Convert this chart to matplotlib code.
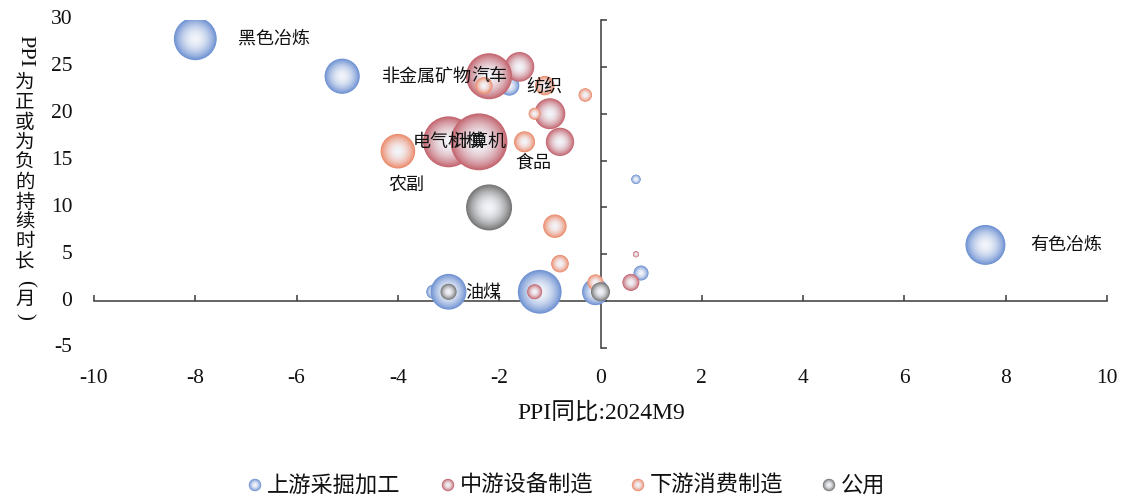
import numpy as np
import matplotlib
matplotlib.use("Agg")
import matplotlib.pyplot as plt
from matplotlib import transforms

# ---- data: PPI YoY (x), duration of positive/negative PPI in months (y), bubble weight ----
up_x = [-8.0, -5.1, -1.8, 0.7, 0.8, -0.1, -1.2, -3.3, -3.0, 7.6]
up_y = [28, 24, 23, 13, 3, 1, 1, 1, 1, 6]
up_w = [46, 31, 10, 2.2, 5.6, 18, 48, 5, 32, 40]

mid_x = [-1.6, -2.2, -1.0, -3.0, -2.4, -0.8, 0.7, 0.6, -1.3]
mid_y = [25, 24, 20, 17, 17, 17, 5, 2, 1]
mid_w = [22, 53, 24, 65, 81, 20, 0.9, 7.2, 5.6]

down_x = [-2.3, -1.1, -0.3, -1.3, -1.5, -4.0, -0.9, -0.8, -0.1]
down_y = [23, 23, 22, 20, 17, 16, 8, 4, 2]
down_w = [7.2, 9.4, 4.5, 3.6, 11, 30, 13.7, 7.7, 6.4]

pub_x = [-2.2, -3.0, 0.0]
pub_y = [10, 1, 1]
pub_w = [53, 6.4, 9]

series_names = ["上游采掘加工", "中游设备制造", "下游消费制造", "公用"]
x_ticks = [-10, -8, -6, -4, -2, 0, 2, 4, 6, 8, 10]
y_ticks = [-5, 0, 5, 10, 15, 20, 25, 30]

# labelled bubbles: (text, x, y, offset in points, horizontal alignment)
labels = [
    ("黑色冶炼", -8.0, 28, (31, 0), "left"),
    ("非金属矿物", -5.1, 24, (29, 0), "left"),
    ("有色冶炼", 7.6, 6, (32, 0), "left"),
    ("汽车", -2.2, 24, (0, 0), "center"),
    ("纺织", -1.1, 23, (0, -1), "center"),
    ("电气机械", -3.0, 17, (0, 0), "center"),
    ("计算机", -2.4, 17, (0, 0), "center"),
    ("食品", -1.5, 17, (6, -15), "center"),
    ("农副", -4.0, 16, (6, -24), "center"),
    ("油煤", -3.0, 1, (12, -1), "left"),
]

# ---- style ----
CJK = ["Noto Sans CJK SC", "DejaVu Sans"]
SERIF = ["Liberation Serif", "Noto Sans CJK SC"]
INK = "#111111"
edge_cols = ["#6F92D3", "#C46670", "#EC8B6C", "#767676"]
centre_col = np.array([0.95, 0.96, 0.98])
S_PER_W = 20.7          # marker area (pt^2) per unit of weight
N_LAYERS = 26

W, H = 1122, 496
fig = plt.figure(figsize=(W / 100, H / 100), dpi=100)
ax = fig.add_axes([94 / W, 1 - 348 / H, (1107 - 94) / W, (348 - 20) / H])
ax.set_xlim(-10, 10)
ax.set_ylim(-5, 30)


def shade(edge, f):
    e = np.array(matplotlib.colors.to_rgb(edge))
    g = f ** 1.9
    return tuple(centre_col + (e - centre_col) * g)


def shaded_points(target, xs, ys, ws, edge, per_w, zorder, n=N_LAYERS):
    px, py, ps, pc = [], [], [], []
    for x, y, w in zip(xs, ys, ws):
        for k in range(n):
            f = 1 - k / n
            px.append(x)
            py.append(y)
            ps.append(per_w * w * f * f)
            pc.append(shade(edge, f))
    target.scatter(px, py, s=ps, c=pc, linewidths=0, zorder=zorder)


for xs, ys, ws, col in zip([up_x, mid_x, down_x, pub_x],
                           [up_y, mid_y, down_y, pub_y],
                           [up_w, mid_w, down_w, pub_w], edge_cols):
    shaded_points(ax, xs, ys, ws, col, S_PER_W, 3)

# axes crossing at zero
for side in ("top", "right"):
    ax.spines[side].set_visible(False)
ax.spines["left"].set_position(("data", 0))
ax.spines["bottom"].set_position(("data", 0))
for side in ("left", "bottom"):
    ax.spines[side].set_color("#3a3a3a")
    ax.spines[side].set_linewidth(1.1)
    ax.spines[side].set_zorder(1)
ax.set_xticks(x_ticks)
ax.set_yticks(y_ticks)
ax.tick_params(direction="in", length=4, width=1.1, color="#3a3a3a",
               labelbottom=False, labelleft=False)

# tick labels along the outer edge of the plot area
tx = transforms.blended_transform_factory(ax.transData, ax.transAxes)
for v in x_ticks:
    ax.text(v, -0.092, str(v), transform=tx, ha="center", va="center",
            fontsize=15.5, family=SERIF, color=INK)
ty = transforms.blended_transform_factory(ax.transAxes, ax.transData)
for v in y_ticks:
    ax.text(-0.0215, v, str(v), transform=ty, ha="right", va="center",
            fontsize=15.5, family=SERIF, color=INK)

# bubble labels
for txt, x, y, off, ha in labels:
    ax.annotate(txt, (x, y), xytext=off, textcoords="offset points",
                ha=ha, va="center", fontsize=13, family=CJK,
                color=INK, zorder=6)

# overlay in figure pixels for titles and legend
ov = fig.add_axes([0, 0, 1, 1], zorder=10)
ov.set_xlim(0, W)
ov.set_ylim(H, 0)
ov.axis("off")

# x-axis title
ov.text(601, 413, "PPI同比:2024M9", ha="center", va="center",
        fontsize=17, family=SERIF, color=INK)

# y-axis title, stacked vertically
col_x = 25
ov.text(col_x, 51, "PPI", rotation=-90, ha="center", va="center",
        fontsize=16, family=SERIF, color=INK)
for i, ch in enumerate("为正或为负的持续时长"):
    ov.text(col_x, 82 + 20 * i, ch, ha="center", va="center",
            fontsize=14, family=CJK, color=INK)
ov.text(col_x, 283, "(", rotation=-90, ha="center", va="center",
        fontsize=15, family=SERIF, color=INK)
ov.text(col_x, 299, "月", ha="center", va="center",
        fontsize=14, family=CJK, color=INK)
ov.text(col_x, 316, ")", rotation=-90, ha="center", va="center",
        fontsize=15, family=SERIF, color=INK)

# legend row with shaded markers
legend_x = [255, 448, 638, 829]
for lx, name, col in zip(legend_x, series_names, edge_cols):
    shaded_points(ov, [lx], [485], [1], col, 80, 11, n=14)
    ov.text(lx + 12, 485, name, ha="left", va="center",
            fontsize=16, family=CJK, color=INK)

fig.savefig("out.png", dpi=100)
